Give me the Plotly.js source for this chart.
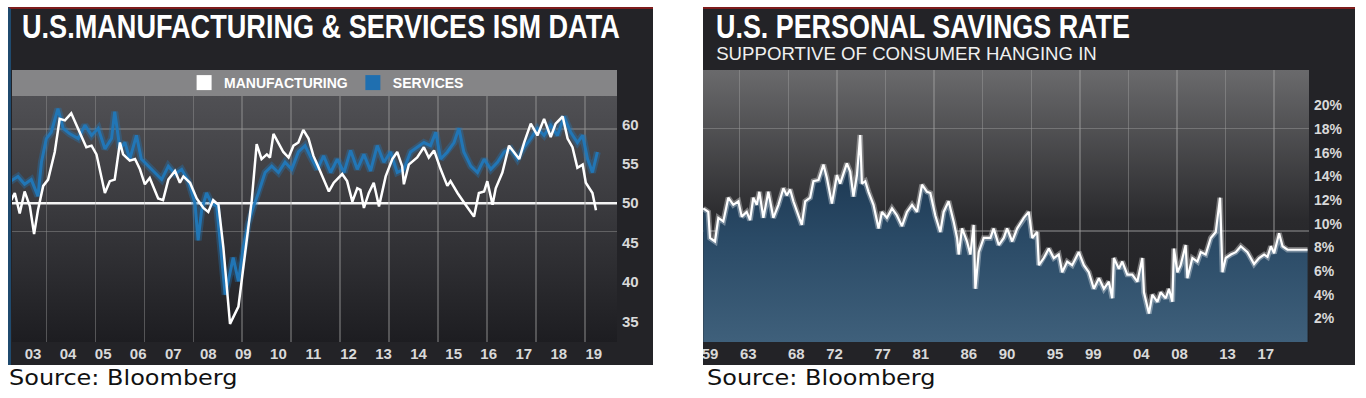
<!DOCTYPE html>
<html>
<head>
<meta charset="utf-8">
<script src="https://cdn.plot.ly/plotly-3.0.1.min.js"></script>
<style>
  html, body { margin:0; padding:0; background:#ffffff; width:1366px; height:398px; overflow:hidden; }
  .panel { position:absolute; background:#232327; border-top:2px solid #7e1c1c; box-sizing:border-box; }
  #ism { left:8px; top:7px; width:645px; height:358px; border-left:3px solid #1f4a6e; }
  #sav { left:703px; top:7px; width:652px; height:358px; }
  .src { position:absolute; top:365px; font-family:"DejaVu Sans", sans-serif; font-size:22px; color:#111; line-height:26px; transform:scaleX(1.09); transform-origin:left center; }
</style>
</head>
<body>
<div id="ism" class="panel"></div>
<div id="sav" class="panel"></div>
<div class="src" style="left:9px;">Source: Bloomberg</div>
<div class="src" style="left:707px;">Source: Bloomberg</div>
<script>
// ---------- ISM data (decimal years) ----------
const mfgDates = [2002.38,2002.48,2002.62,2002.76,2002.91,2003.03,2003.14,2003.29,2003.43,2003.62,2003.76,2003.91,2004.09,2004.29,2004.52,2004.67,2004.81,2005.05,2005.19,2005.33,2005.48,2005.57,2005.76,2005.91,2006.05,2006.19,2006.33,2006.57,2006.71,2006.86,2007.05,2007.19,2007.29,2007.48,2007.67,2007.86,2008.00,2008.14,2008.29,2008.43,2008.57,2008.62,2008.86,2009.05,2009.24,2009.38,2009.52,2009.67,2009.76,2009.86,2010.00,2010.14,2010.29,2010.43,2010.57,2010.71,2010.86,2011.00,2011.11,2011.29,2011.44,2011.58,2011.82,2011.96,2012.11,2012.25,2012.34,2012.44,2012.58,2012.72,2012.87,2013.06,2013.25,2013.39,2013.53,2013.58,2013.72,2013.96,2014.15,2014.29,2014.44,2014.63,2014.82,2014.91,2015.11,2015.34,2015.58,2015.72,2015.87,2015.96,2016.11,2016.20,2016.39,2016.58,2016.72,2016.87,2017.01,2017.20,2017.39,2017.58,2017.77,2017.91,2018.11,2018.25,2018.39,2018.53,2018.68,2018.77,2018.96,2019.06];
const mfgValues = [50.4,51.3,48.7,51.5,49.6,46.1,49.1,52.2,53.0,56.5,60.7,60.5,61.4,59.5,57.1,57.3,56.2,51.3,52.8,53.0,57.7,56.2,55.4,55.6,54.3,52.4,53.2,50.6,50.4,53.0,54.1,52.6,53.4,52.6,50.6,49.4,48.9,50.4,49.8,44.4,37.5,34.7,36.9,44.0,50.4,57.5,55.6,56.2,55.8,58.8,57.7,56.5,55.8,57.3,57.7,59.3,58.2,56.0,54.9,53.0,51.5,52.6,53.7,52.8,50.2,51.9,51.7,49.4,51.3,52.6,49.6,53.4,55.6,56.5,54.7,52.4,54.9,55.8,57.1,55.8,56.7,54.3,52.2,52.8,51.3,49.8,48.3,51.3,51.5,52.8,49.8,51.9,53.9,57.3,56.5,55.6,57.7,60.1,58.6,60.7,58.4,60.1,61.0,58.2,57.1,54.5,54.9,52.6,51.3,49.1];
const svcDates = [2002.29,2002.57,2002.76,2002.95,2003.14,2003.24,2003.38,2003.52,2003.71,2003.86,2004.05,2004.29,2004.48,2004.67,2004.86,2005.05,2005.24,2005.33,2005.48,2005.62,2005.76,2005.95,2006.09,2006.29,2006.48,2006.67,2006.86,2007.05,2007.24,2007.43,2007.62,2007.71,2007.81,2007.95,2008.09,2008.24,2008.38,2008.48,2008.57,2008.71,2008.86,2009.00,2009.14,2009.29,2009.43,2009.62,2009.81,2010.00,2010.19,2010.38,2010.57,2010.76,2010.95,2011.11,2011.29,2011.49,2011.68,2011.87,2012.06,2012.25,2012.44,2012.63,2012.82,2013.01,2013.20,2013.39,2013.58,2013.77,2013.96,2014.15,2014.34,2014.49,2014.63,2014.82,2015.01,2015.15,2015.29,2015.49,2015.68,2015.87,2016.06,2016.25,2016.44,2016.63,2016.82,2017.01,2017.20,2017.39,2017.58,2017.77,2017.96,2018.15,2018.34,2018.53,2018.68,2018.82,2018.96,2019.10];
const svcValues = [52.6,53.4,52.4,53.0,50.9,55.2,58.2,59.0,62.0,59.5,58.8,58.2,59.9,58.6,59.5,56.9,58.2,61.6,56.9,57.7,55.6,58.6,55.6,54.7,53.9,53.0,54.7,53.7,54.3,52.8,50.0,45.3,49.1,51.3,50.0,49.6,43.1,38.4,40.1,43.1,40.1,44.4,47.4,49.6,51.3,53.9,54.7,53.9,55.2,54.3,56.5,57.3,55.6,54.3,56.0,53.9,55.6,53.9,56.7,54.3,56.2,54.1,57.3,55.2,56.5,53.9,54.3,56.5,57.1,57.7,57.3,59.0,55.6,56.5,57.7,59.5,56.5,54.7,53.9,55.6,54.3,55.2,56.5,56.9,55.6,57.1,58.2,59.5,58.6,59.9,58.6,61.0,59.0,57.7,58.6,55.6,53.9,56.5];
const ismTickYears = [2003,2004,2005,2006,2007,2008,2009,2010,2011,2012,2013,2014,2015,2016,2017,2018,2019];
const ismTickText = ['03','04','05','06','07','08','09','10','11','12','13','14','15','16','17','18','19'];
const ismYTicks = [35,40,45,50,55,60];
const ismThreshold = 50;

// ---------- Savings rate data (decimal years, %) ----------
const savDates = [1958.30,1958.82,1959.00,1959.52,1959.87,1960.39,1960.91,1961.43,1961.96,1962.31,1962.83,1963.18,1963.52,1963.88,1964.15,1964.57,1965.09,1965.61,1966.14,1966.66,1967.01,1967.36,1967.70,1968.06,1968.58,1968.93,1969.45,1969.79,1970.32,1970.84,1971.19,1971.72,1972.24,1972.58,1973.28,1973.63,1973.97,1974.33,1974.67,1974.85,1975.20,1975.54,1976.06,1976.59,1976.94,1977.46,1977.99,1978.51,1979.03,1979.55,1980.08,1980.60,1981.12,1981.64,1981.99,1982.51,1983.03,1983.38,1983.90,1984.42,1984.78,1984.95,1985.30,1985.82,1986.17,1986.51,1986.69,1987.04,1987.56,1988.26,1988.60,1989.13,1989.65,1990.00,1990.53,1991.05,1991.74,1992.26,1992.62,1993.14,1993.31,1993.83,1994.35,1994.87,1995.39,1995.75,1996.27,1996.79,1997.48,1998.01,1998.53,1999.05,1999.58,2000.10,2000.62,2000.97,2001.14,2001.66,2002.02,2002.54,2003.06,2003.59,2004.11,2004.28,2004.80,2005.15,2005.68,2006.02,2006.55,2006.89,2007.24,2007.41,2007.77,2008.11,2008.63,2008.81,2009.33,2009.86,2010.20,2010.72,2011.25,2011.77,2012.22,2012.47,2012.81,2013.34,2013.86,2014.38,2015.08,2015.77,2016.29,2016.82,2017.17,2017.52,2017.86,2018.38,2018.74,2019.26,2021.35];
const savValues = [11.3,11.0,8.8,8.5,10.5,10.2,12.2,11.6,11.9,10.6,11.0,10.3,12.2,11.6,12.7,10.5,12.7,10.5,11.6,13.0,12.4,12.9,11.9,11.0,9.9,11.9,12.2,13.6,13.7,15.0,13.9,11.7,14.1,13.4,15.1,14.4,12.3,14.1,17.5,13.4,13.6,12.7,11.6,9.6,11.0,10.5,11.3,10.7,9.8,11.0,11.6,11.0,13.3,12.7,12.6,10.7,9.3,11.0,11.9,10.2,8.8,7.4,9.6,8.5,7.4,9.9,4.5,7.6,8.8,8.8,9.6,8.2,8.8,9.6,8.5,9.6,10.5,11.0,8.8,9.3,6.5,7.1,7.9,7.1,7.4,5.9,6.8,6.5,7.6,6.5,5.9,4.5,5.4,4.5,5.1,3.7,7.1,6.2,6.8,5.7,5.7,5.1,7.1,4.2,2.4,4.0,3.4,4.2,3.7,4.5,3.4,7.9,5.9,6.5,8.2,5.4,7.1,6.8,7.6,7.4,8.8,9.3,12.2,5.9,7.1,7.4,7.6,8.1,7.6,6.6,7.1,7.4,7.2,8.1,7.5,9.2,8.1,7.8,7.8];
const savTickYears = [1959,1963,1968,1972,1977,1981,1986,1990,1995,1999,2004,2008,2013,2017];
const savTickText = ['59','63','68','72','77','81','86','90','95','99','04','08','13','17'];
const savYTicks = [2,4,6,8,10,12,14,16,18,20];

function gradImg(stops) {
  let s = '<svg xmlns="http://www.w3.org/2000/svg" width="10" height="100" preserveAspectRatio="none"><defs><linearGradient id="g" x1="0" y1="0" x2="0" y2="1">';
  stops.forEach(st => { s += '<stop offset="' + st[0] + '" stop-color="' + st[1] + '"/>'; });
  s += '</linearGradient></defs><rect width="10" height="100" fill="url(#g)"/></svg>';
  return 'data:image/svg+xml;charset=utf-8,' + encodeURIComponent(s);
}
// horizontally condense a text element to a target width (keeps it real text)
function squeeze(el, width) {
  if (!el) return;
  const bb = el.getBBox();
  if (!bb.width) return;
  const s = width / bb.width;
  const x0 = bb.x;
  const prev = el.getAttribute('transform') || '';
  el.setAttribute('transform', 'translate(' + x0 + ',0) scale(' + s + ',1) translate(' + (-x0) + ',0) ' + prev);
}

const tickFont = {family:'"Liberation Sans", Arial, sans-serif', size:15, color:'#d9d9d9', weight:'bold'};
const titleFont = {family:'"Liberation Sans", Arial, sans-serif', size:33, color:'#ffffff', weight:'bold'};

// ---------- Left chart ----------
const ismTraces = [
  {x: svcDates, y: svcValues, type:'scatter', mode:'lines', name:'SERVICES', showlegend:false,
   line:{color:'rgba(33,120,185,0.35)', width:7}},
  {x: svcDates, y: svcValues, type:'scatter', mode:'lines', name:'SERVICES', showlegend:false,
   line:{color:'rgba(33,120,185,0.95)', width:3}},
  {x: mfgDates, y: mfgValues, type:'scatter', mode:'lines', name:'MANUFACTURING', showlegend:false,
   line:{color:'#ffffff', width:2.5}},
  {x:[null], y:[null], type:'scatter', mode:'markers', name:'MANUFACTURING', showlegend:true,
   marker:{symbol:'square', size:15, color:'#ffffff'}},
  {x:[null], y:[null], type:'scatter', mode:'markers', name:'SERVICES', showlegend:true,
   marker:{symbol:'square', size:15, color:'#1f6fb0'}}
];
const ismW = 642, ismH = 356;
const ismLayout = {
  width: ismW, height: ismH,
  margin:{l:1, r:36, t:87, b:23},
  paper_bgcolor:'rgba(0,0,0,0)', plot_bgcolor:'rgba(0,0,0,0)',
  title:{text:'U.S.MANUFACTURING &amp; SERVICES ISM DATA', font:titleFont, x:11/ismW, xanchor:'left', y:1-17/ismH, yanchor:'middle', xref:'container', yref:'container'},
  xaxis:{range:[2002.4, 2019.66], tickmode:'array', tickvals:ismTickYears, ticktext:ismTickText,
    showgrid:false, zeroline:false, showline:false, ticks:'', tickfont:tickFont, ticklabelstandoff:1, ticklabeloverflow:'allow',
    minor:{tick0:2003.38, dtick:1.397, showgrid:true, gridcolor:'rgba(150,150,150,0.45)', gridwidth:1.5}},
  yaxis:{range:[32.4, 63.6], side:'right', tickmode:'array', tickvals:ismYTicks, showgrid:false, zeroline:false,
    ticks:'', tickfont:tickFont, ticklabelstandoff:4,
    minor:{tickmode:'array', tickvals:[46.4, 59.4], showgrid:true, gridcolor:'rgba(150,150,150,0.45)', gridwidth:1.5}},
  legend:{orientation:'h', x:0.52, xanchor:'center', y:1+13/246, yanchor:'middle', bgcolor:'rgba(0,0,0,0)',
    font:{family:'"Liberation Sans", Arial, sans-serif', size:14, color:'#ffffff', weight:'bold'}, itemwidth:30, tracegroupgap:0},
  images:[{source: gradImg([[0,'#505054'],[0.45,'#3a3a3e'],[1,'#1d1d21']]), xref:'paper', yref:'paper', x:0, y:1, sizex:1, sizey:1, sizing:'stretch', layer:'below'}],
  shapes:[
    {type:'rect', xref:'paper', yref:'paper', x0:0, x1:1, y0:1, y1:1+26/246, fillcolor:'#858587', line:{width:0}, layer:'below'},
    {type:'line', xref:'paper', yref:'y', x0:0, x1:1, y0:ismThreshold, y1:ismThreshold, line:{color:'#f4f4f4', width:2.5}, layer:'below'}
  ],
  showlegend:true
};
Plotly.newPlot('ism', ismTraces, ismLayout, {staticPlot:true, displayModeBar:false}).then(gd => {
  squeeze(gd.querySelector('.gtitle'), 598);
});

// ---------- Right chart ----------
const savTraces = [
  {x: savDates, y: savValues, type:'scatter', mode:'lines', fill:'tozeroy', showlegend:false,
   fillgradient:{type:'vertical', colorscale:[[0,'#3f607b'],[0.5,'#2a4a66'],[1,'#16304a']]},
   line:{color:'rgba(255,255,255,0.35)', width:5.5}},
  {x: savDates, y: savValues, type:'scatter', mode:'lines', showlegend:false,
   line:{color:'#ffffff', width:2.2}}
];
const savW = 652, savH = 356;
const savLayout = {
  width: savW, height: savH,
  margin:{l:0, r:46, t:61, b:23},
  paper_bgcolor:'rgba(0,0,0,0)', plot_bgcolor:'rgba(0,0,0,0)',
  title:{text:'U.S. PERSONAL SAVINGS RATE', font:titleFont, x:13/savW, xanchor:'left', y:1-17/savH, yanchor:'middle', xref:'container', yref:'container'},
  annotations:[{text:'SUPPORTIVE OF CONSUMER HANGING IN', xref:'paper', yref:'paper', x:11/606, y:1+16/272, xanchor:'left', yanchor:'middle', showarrow:false,
    font:{family:'"Liberation Sans", Arial, sans-serif', size:18, color:'#f0f0f0'}}],
  xaxis:{range:[1958.27, 2021.5], tickmode:'array', tickvals:savTickYears, ticktext:savTickText,
    showgrid:false, zeroline:false, showline:false, ticks:'', tickfont:tickFont, ticklabelstandoff:1, ticklabeloverflow:'allow',
    minor:{tick0:1962.1, dtick:5.07, showgrid:true, gridcolor:'rgba(160,160,160,0.45)', gridwidth:1.5}},
  yaxis:{range:[0, 23.0], side:'right', tickmode:'array', tickvals:savYTicks, ticktext:savYTicks.map(v => v + '%'),
    showgrid:false, zeroline:false, ticks:'',
    tickfont:{family:'"Liberation Sans", Arial, sans-serif', size:14, color:'#d9d9d9', weight:'bold'}, ticklabelstandoff:4,
    minor:{tickmode:'array', tickvals:[9.4, 18.05], showgrid:true, gridcolor:'rgba(160,160,160,0.45)', gridwidth:1.5}},
  images:[{source: gradImg([[0,'#6a6a6c'],[0.55,'#2a2a2d'],[1,'#1e1e22']]), xref:'paper', yref:'paper', x:0, y:1, sizex:1, sizey:1, sizing:'stretch', layer:'below'}],
  showlegend:false
};
Plotly.newPlot('sav', savTraces, savLayout, {staticPlot:true, displayModeBar:false}).then(gd => {
  squeeze(gd.querySelector('.gtitle'), 414);
  const ann = gd.querySelector('.annotation-text');
  squeeze(ann, 381);
});
</script>
</body>
</html>
